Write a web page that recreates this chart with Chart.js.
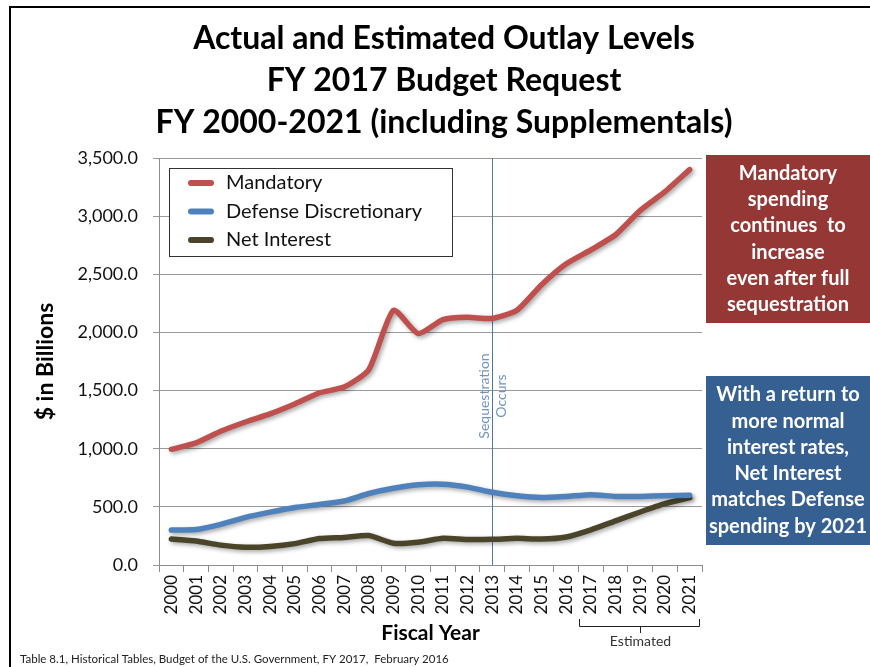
<!DOCTYPE html>
<html lang="en">
<head>
  <meta charset="UTF-8">
  <title>Actual and Estimated Outlay Levels</title>
  <style>
    body {
      margin: 0;
      background-color: #fff;
    }
    canvas {
      display: block;
    }
  </style>
  <script src="https://cdn.jsdelivr.net/npm/chart.js"></script>
</head>
<body>
<canvas id="outlayChart" width="870" height="667"></canvas>

<script>
  // Fiscal years and outlays ($ billions)
  const years = ['2000', '2001', '2002', '2003', '2004', '2005', '2006', '2007', '2008', '2009', '2010',
                 '2011', '2012', '2013', '2014', '2015', '2016', '2017', '2018', '2019', '2020', '2021'];
  const mandatory = [995, 1050, 1150, 1230, 1300, 1385, 1480, 1530, 1680, 2190, 1990,
                     2110, 2130, 2120, 2190, 2410, 2590, 2710, 2840, 3050, 3210, 3400];
  const defense = [300, 305, 350, 410, 455, 495, 520, 550, 615, 660, 690,
                   695, 670, 625, 595, 580, 590, 605, 590, 590, 595, 600];
  const netInterest = [223, 206, 171, 153, 160, 184, 227, 237, 253, 187, 196,
                       230, 220, 221, 229, 223, 241, 303, 380, 456, 527, 580];

  const titleLines = ['Actual and Estimated Outlay Levels', 'FY 2017 Budget Request', 'FY 2000-2021 (including Supplementals)'];
  const mandatoryNote = ['Mandatory', 'spending', 'continues  to', 'increase', 'even after full', 'sequestration'];
  const interestNote = ['With a return to', 'more normal', 'interest rates,', 'Net Interest', 'matches Defense', 'spending by 2021'];
  const sourceNote = 'Table 8.1, Historical Tables, Budget of the U.S. Government, FY 2017,  February 2016';
  const sequestrationYear = '2013';
  const firstEstimatedYear = '2017';

  const FONT = 'Lato, "Open Sans", sans-serif';

  // White background and frame
  const fondo = {
    id: 'fondo',
    beforeDraw(chart) {
      const ctx = chart.ctx;
      ctx.save();
      ctx.fillStyle = '#fff';
      ctx.fillRect(0, 0, chart.width, chart.height);
      ctx.strokeStyle = '#000';
      ctx.lineWidth = 2;
      ctx.strokeRect(10, 7, chart.width + 20, chart.height + 20);
      ctx.restore();
    }
  };

  // Soft shadow under the lines
  const sombra = {
    id: 'sombra',
    beforeDatasetsDraw(chart) {
      const ctx = chart.ctx;
      ctx.save();
      ctx.shadowColor = 'rgba(0,0,0,0.35)';
      ctx.shadowBlur = 4;
      ctx.shadowOffsetX = 2;
      ctx.shadowOffsetY = 2;
    },
    afterDatasetsDraw(chart) {
      chart.ctx.restore();
    }
  };

  // Sequestration marker line (drawn under the lines)
  const secuestro = {
    id: 'secuestro',
    beforeDatasetsDraw(chart) {
      const ctx = chart.ctx;
      const area = chart.chartArea;
      const x = Math.round(chart.scales.x.getPixelForValue(years.indexOf(sequestrationYear))) + 0.5;
      ctx.save();
      ctx.strokeStyle = '#4f77a6';
      ctx.lineWidth = 1;
      ctx.beginPath();
      ctx.moveTo(x, area.top);
      ctx.lineTo(x, area.bottom);
      ctx.stroke();
      ctx.translate(x, 396);
      ctx.rotate(-Math.PI / 2);
      ctx.fillStyle = '#7195c2';
      ctx.font = '14px ' + FONT;
      ctx.textAlign = 'center';
      ctx.textBaseline = 'middle';
      ctx.fillText('Sequestration', 0, -8);
      ctx.fillText('Occurs', 0, 9);
      ctx.restore();
    }
  };

  // Titles, legend, notes and the "Estimated" bracket
  const extras = {
    id: 'extras',
    afterDraw(chart) {
      const ctx = chart.ctx;
      const xs = chart.scales.x;
      ctx.save();

      // main title
      ctx.fillStyle = '#000';
      ctx.font = 'bold 32px ' + FONT;
      ctx.textAlign = 'center';
      ctx.textBaseline = 'middle';
      titleLines.forEach((t, i) => ctx.fillText(t, 444, 39 + i * 42));

      // legend box
      ctx.fillStyle = '#fff';
      ctx.fillRect(169.5, 168.5, 283, 88);
      ctx.strokeStyle = '#333';
      ctx.lineWidth = 1;
      ctx.strokeRect(169.5, 168.5, 283, 88);
      ctx.font = '20px ' + FONT;
      ctx.textAlign = 'left';
      chart.data.datasets.forEach((ds, i) => {
        const y = 183 + i * 28.5;
        ctx.strokeStyle = ds.borderColor;
        ctx.lineWidth = 6;
        ctx.lineCap = 'round';
        ctx.beginPath();
        ctx.moveTo(191, y);
        ctx.lineTo(211, y);
        ctx.stroke();
        ctx.fillStyle = '#111';
        ctx.fillText(ds.label, 226, y);
      });

      // side notes
      function nota(lines, color, top, h) {
        ctx.fillStyle = color;
        ctx.fillRect(706, top, 164, h);
        ctx.fillStyle = '#fff';
        ctx.font = 'bold 20px ' + FONT;
        ctx.textAlign = 'center';
        const mid = top + h / 2;
        lines.forEach((t, i) => ctx.fillText(t, 788, mid + (i - (lines.length - 1) / 2) * 26.3));
      }
      nota(mandatoryNote, '#953735', 155, 168);
      nota(interestNote, '#376092', 376, 169);

      // Estimated bracket
      const w = xs.getPixelForValue(1) - xs.getPixelForValue(0);
      const x1 = Math.round(xs.getPixelForValue(years.indexOf(firstEstimatedYear)) - w / 2) + 0.5;
      const x2 = Math.round(xs.getPixelForValue(years.length - 1) + w / 2) - 2.5;
      const xm = Math.round((x1 + x2) / 2) + 0.5;
      ctx.strokeStyle = '#222';
      ctx.lineWidth = 1;
      ctx.lineCap = 'butt';
      ctx.beginPath();
      ctx.moveTo(x1, 619);
      ctx.lineTo(x1, 626.5);
      ctx.lineTo(x2, 626.5);
      ctx.lineTo(x2, 619);
      ctx.moveTo(xm, 626.5);
      ctx.lineTo(xm, 633);
      ctx.stroke();
      ctx.fillStyle = '#333';
      ctx.font = '14px ' + FONT;
      ctx.textAlign = 'center';
      ctx.fillText('Estimated', xm, 641);

      // source
      ctx.fillStyle = '#222';
      ctx.font = '11.5px ' + FONT;
      ctx.textAlign = 'left';
      ctx.fillText(sourceNote, 20, 659);

      ctx.restore();
    }
  };

  const datos = {
    labels: years,
    datasets: [
      { label: 'Mandatory', data: mandatory, borderColor: '#c0504d' },
      { label: 'Defense Discretionary', data: defense, borderColor: '#4f81bd' },
      { label: 'Net Interest', data: netInterest, borderColor: '#4a452a' }
    ]
  };

  const config = {
    type: 'line',
    data: datos,
    options: {
      responsive: false,
      animation: false,
      devicePixelRatio: 1,
      layout: { padding: { left: 0, right: 168, top: 158, bottom: 0 } },
      elements: {
        line: { borderWidth: 5.5, tension: 0.2, borderCapStyle: 'round', borderJoinStyle: 'round', fill: false },
        point: { radius: 0, hoverRadius: 0 }
      },
      plugins: {
        legend: { display: false },
        title: { display: false },
        tooltip: { enabled: false }
      },
      scales: {
        x: {
          offset: true,
          afterFit(scale) { scale.height = 102; },
          border: { color: '#8c8c8c' },
          grid: { offset: true, drawOnChartArea: false, tickLength: 7, color: '#8c8c8c' },
          ticks: { minRotation: 90, maxRotation: 90, autoSkip: false, padding: 3, color: '#111',
                   font: { family: FONT, size: 17 } },
          title: { display: true, text: 'Fiscal Year', color: '#000',
                   font: { family: FONT, size: 21, weight: 'bold' }, padding: { top: 0, bottom: 21 } }
        },
        y: {
          min: 0,
          max: 3500,
          afterFit(scale) { scale.width = 159; },
          border: { color: '#8c8c8c' },
          grid: { color: '#9a9a9a', tickLength: 6 },
          ticks: { stepSize: 500, padding: 15, color: '#111', font: { family: FONT, size: 18 },
                   callback: v => v.toLocaleString('en-US', { minimumFractionDigits: 1, maximumFractionDigits: 1 }) },
          title: { display: true, text: '$ in Billions', color: '#000',
                   font: { family: FONT, size: 23, weight: 'bold' }, padding: { top: 32, bottom: 0 } }
        }
      }
    },
    plugins: [fondo, secuestro, sombra, extras]
  };

  new Chart(document.getElementById('outlayChart').getContext('2d'), config);
</script>
</body>
</html>
